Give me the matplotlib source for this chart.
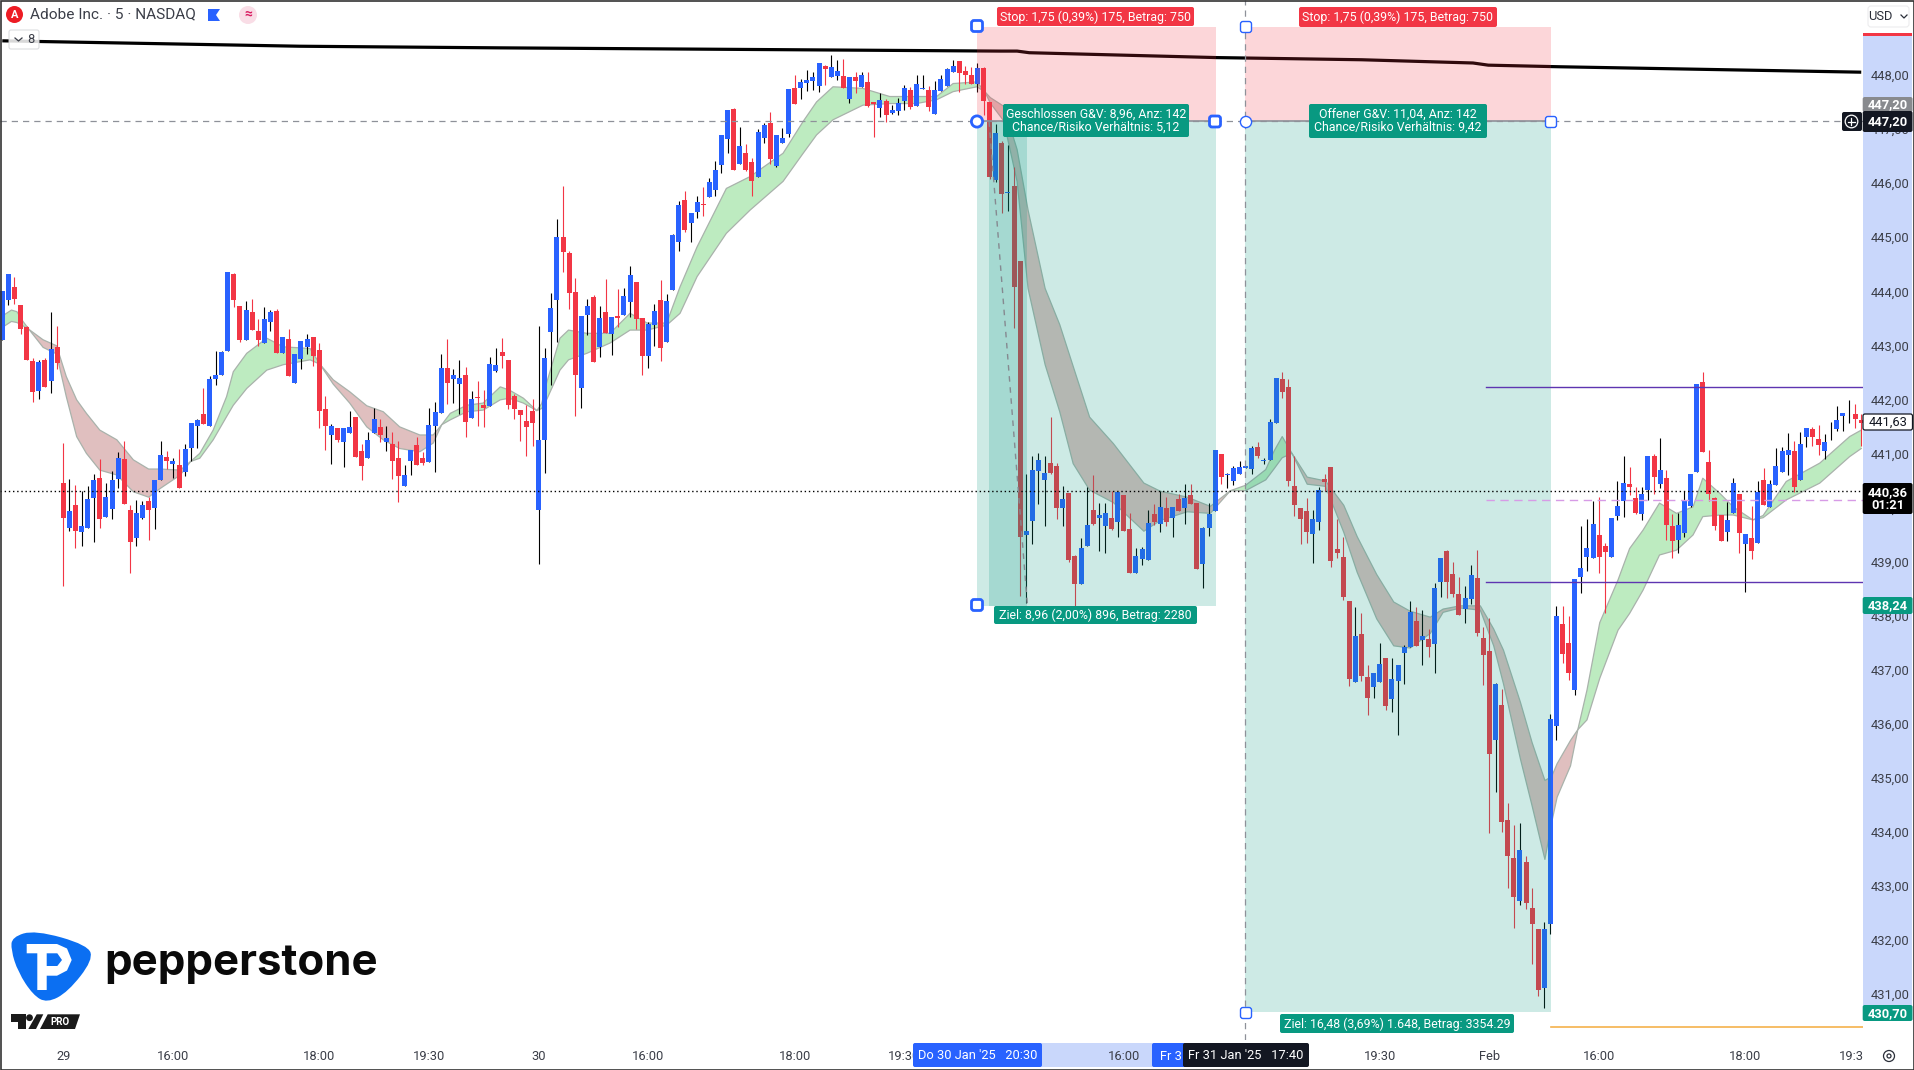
"""
Adobe 5 min chart with two long/short position boxes, TradingView look
"""
import matplotlib
matplotlib.use('Agg')
import matplotlib.pyplot as plt
from matplotlib.patches import Rectangle, FancyBboxPatch, Circle, Polygon, PathPatch
from matplotlib.path import Path
import numpy as np

opens = [
    443.15, 443.90, 444.14, 443.80, 443.39, 442.77, 442.21, 442.79, 442.40, 443.03,
    440.51, 439.68, 440.11, 439.61, 439.68, 440.24, 440.60, 439.88, 440.03, 440.59,
    440.96, 440.01, 439.50, 439.86, 440.18, 440.05, 440.57, 440.99, 440.86, 440.85,
    440.72, 441.16, 441.57, 441.79, 441.57, 442.44, 442.51, 442.95, 444.38, 443.79,
    443.16, 443.67, 443.32, 443.10, 443.49, 443.69, 442.92, 443.17, 442.36, 442.81,
    443.03, 443.21, 442.97, 441.88, 441.40, 441.53, 441.27, 441.44, 441.73, 441.11,
    440.97, 441.44, 441.55, 441.27, 441.23, 440.97, 440.46, 440.92, 441.21, 440.97,
    440.90, 441.57, 441.81, 442.64, 442.44, 442.34, 442.51, 441.71, 442.10, 441.95,
    441.94, 442.58, 442.93, 442.79, 442.12, 441.86, 441.66, 441.84, 440.01, 441.31,
    443.30, 443.90, 445.06, 444.77, 444.04, 442.27, 443.62, 443.95, 443.03, 443.67,
    443.27, 443.60, 443.62, 443.86, 444.23, 443.56, 442.86, 443.43, 443.90, 443.12,
    444.08, 444.97, 445.75, 445.32, 445.52, 445.67, 445.80, 445.93, 446.39, 446.87,
    447.43, 446.41, 446.61, 446.45, 446.17, 446.89, 447.17, 446.37, 446.80, 446.97,
    447.82, 447.82, 447.91, 447.95, 447.85, 448.22, 448.02, 448.04, 448.04, 447.61,
    448.02, 447.84, 447.93, 447.55, 447.45, 447.58, 447.35, 447.39, 447.58, 447.78,
    447.48, 447.80, 447.78, 447.34, 447.76, 447.85, 448.11, 448.32, 448.13, 448.06,
    447.89, 448.19, 447.56, 446.12, 446.80, 445.88, 446.00, 444.62, 439.55, 439.80,
    440.74, 440.57, 440.89, 440.83, 440.05, 440.33, 439.16, 438.64, 439.35, 440.01,
    439.87, 439.72, 439.87, 439.79, 440.29, 439.66, 438.85, 439.11, 439.09, 439.94,
    439.75, 440.05, 439.87, 440.22, 440.05, 440.29, 440.14, 439.01, 439.68, 439.99,
    441.05, 440.66, 440.55, 440.68, 440.79, 440.77, 441.18, 440.92, 440.94, 441.62,
    442.44, 442.29, 440.46, 440.05, 439.99, 439.57, 439.79, 440.58, 440.81, 439.29,
    439.15, 438.33, 436.84, 437.71, 436.93, 436.73, 436.84, 437.28, 436.52, 436.85,
    437.36, 437.48, 437.96, 437.61, 437.63, 437.54, 438.69, 439.25, 438.83, 438.46,
    438.18, 438.37, 438.76, 437.65, 437.41, 435.76, 436.41, 434.27, 433.58, 432.79,
    433.50, 432.66, 432.27, 431.18, 432.35, 436.02, 437.91, 437.56, 436.68, 438.77,
    439.14, 439.12, 439.55, 439.35, 439.14, 439.90, 440.18, 440.49, 440.23, 439.94,
    440.38, 441.01, 440.49, 440.60, 439.72, 439.46, 439.59, 440.09, 440.72, 442.38,
    440.90, 440.23, 439.92, 439.61, 439.96, 440.31, 439.38, 439.50, 439.40, 440.57,
    440.07, 440.47, 440.71, 441.03, 441.10, 440.57, 441.36, 441.51, 441.33, 441.10,
    441.45, 441.51, 441.75, 441.78, 441.79, 441.68,
]
closes = [
    444.06, 444.38, 443.91, 443.36, 442.79, 442.20, 442.75, 442.29, 442.99, 442.73,
    439.87, 439.99, 439.62, 439.72, 440.22, 440.57, 439.85, 440.25, 440.57, 440.97,
    440.12, 439.42, 439.96, 440.11, 440.01, 440.57, 441.03, 440.92, 440.92, 440.42,
    441.14, 441.62, 441.68, 441.60, 442.44, 442.51, 442.93, 444.41, 443.90, 443.16,
    443.71, 443.34, 443.16, 443.55, 443.67, 442.92, 443.21, 442.49, 442.90, 443.14,
    443.17, 442.86, 441.84, 441.57, 441.57, 441.31, 441.53, 441.55, 440.99, 440.83,
    441.31, 441.70, 441.40, 441.34, 440.92, 440.64, 440.66, 441.12, 440.85, 440.88,
    441.59, 441.83, 442.64, 442.36, 442.51, 442.45, 441.64, 442.07, 442.09, 441.90,
    442.71, 442.69, 442.86, 441.95, 441.88, 441.77, 441.55, 441.62, 441.31, 442.82,
    443.75, 445.06, 444.78, 444.03, 442.51, 443.60, 443.79, 442.75, 443.56, 443.29,
    443.58, 443.56, 443.97, 444.36, 443.54, 442.86, 443.45, 443.69, 443.01, 443.88,
    445.10, 445.65, 445.19, 445.51, 445.71, 445.65, 446.08, 446.30, 446.95, 447.41,
    446.30, 446.74, 446.30, 446.10, 447.00, 447.13, 446.50, 446.95, 446.89, 447.80,
    447.52, 447.93, 447.97, 448.02, 448.28, 448.17, 448.21, 448.13, 447.82, 448.02,
    447.95, 448.06, 447.48, 447.53, 447.60, 447.32, 447.41, 447.54, 447.82, 447.47,
    447.89, 447.81, 447.47, 447.78, 447.98, 448.17, 448.22, 448.10, 448.06, 447.89,
    448.19, 447.58, 446.17, 446.98, 445.86, 445.89, 444.14, 439.52, 439.62, 440.75,
    440.94, 440.69, 440.70, 440.05, 440.22, 439.09, 438.64, 439.31, 439.74, 439.75,
    439.92, 439.96, 439.66, 440.35, 439.62, 438.85, 439.16, 439.29, 439.77, 439.79,
    440.07, 439.79, 440.07, 440.00, 440.24, 440.12, 438.92, 439.68, 439.94, 441.12,
    440.62, 440.67, 440.79, 440.81, 440.83, 441.16, 441.01, 440.93, 441.64, 442.45,
    442.20, 440.55, 440.11, 439.85, 439.61, 439.85, 440.38, 440.53, 439.07, 439.22,
    438.41, 436.89, 437.68, 436.95, 436.54, 437.00, 437.17, 436.38, 436.89, 437.15,
    437.48, 438.13, 437.50, 437.69, 437.48, 438.57, 439.13, 438.69, 438.45, 438.07,
    438.39, 438.81, 437.74, 437.33, 435.50, 436.79, 434.24, 433.62, 432.86, 433.73,
    432.75, 432.35, 431.14, 432.27, 436.15, 438.06, 437.34, 437.00, 438.74, 438.94,
    439.31, 439.75, 439.14, 439.24, 439.87, 440.09, 440.51, 440.44, 439.96, 440.31,
    441.01, 440.62, 440.75, 439.74, 439.44, 439.74, 440.20, 440.68, 442.34, 441.09,
    440.31, 439.72, 439.44, 439.83, 440.51, 439.59, 439.57, 439.25, 440.35, 440.11,
    440.49, 440.83, 441.10, 441.12, 440.44, 441.23, 441.53, 441.36, 441.21, 441.27,
    441.46, 441.68, 441.81, 441.79, 441.70, 441.62,
]
highs = [
    444.06, 444.38, 444.33, 443.80, 443.42, 442.82, 442.79, 442.82, 443.67, 443.42,
    441.25, 440.59, 440.48, 440.37, 440.46, 440.68, 440.96, 440.51, 440.73, 441.09,
    441.29, 440.11, 440.20, 440.18, 440.25, 440.57, 441.29, 441.11, 440.97, 441.14,
    441.23, 441.62, 441.70, 442.27, 442.49, 442.95, 442.95, 444.41, 444.40, 443.79,
    443.88, 443.91, 443.55, 443.77, 443.71, 443.73, 443.21, 443.36, 442.90, 443.14,
    443.27, 443.21, 443.10, 442.12, 441.60, 441.53, 441.53, 441.84, 441.73, 441.23,
    441.46, 441.90, 441.70, 441.57, 441.46, 441.29, 440.85, 441.12, 441.36, 441.09,
    441.90, 442.01, 442.90, 443.17, 442.62, 442.79, 442.66, 442.21, 442.40, 442.23,
    442.84, 443.01, 443.19, 442.79, 442.16, 441.86, 441.95, 442.07, 443.42, 443.01,
    444.03, 445.39, 446.00, 444.80, 444.30, 443.60, 443.91, 443.99, 443.79, 444.28,
    443.58, 444.10, 444.12, 444.52, 444.23, 443.56, 443.49, 443.82, 444.27, 444.01,
    445.12, 445.73, 445.91, 445.51, 445.82, 445.99, 446.15, 446.47, 446.95, 447.41,
    447.45, 447.10, 446.78, 446.52, 447.06, 447.17, 447.37, 446.95, 447.08, 447.80,
    448.06, 447.98, 448.15, 448.11, 448.28, 448.24, 448.43, 448.33, 448.35, 448.02,
    448.11, 448.11, 448.11, 447.56, 447.72, 447.61, 447.50, 447.63, 447.87, 447.84,
    448.06, 448.06, 447.85, 447.95, 448.06, 448.19, 448.33, 448.32, 448.22, 448.21,
    448.28, 448.21, 447.56, 447.16, 446.84, 446.76, 446.35, 444.62, 440.67, 441.02,
    441.07, 441.02, 441.73, 440.89, 440.46, 440.33, 439.18, 439.50, 440.44, 440.66,
    440.14, 440.14, 440.36, 440.35, 440.29, 439.96, 439.31, 439.33, 440.01, 440.12,
    440.36, 440.25, 440.07, 440.31, 440.49, 440.49, 440.14, 439.70, 440.14, 441.12,
    441.05, 440.69, 440.83, 440.92, 440.83, 441.20, 441.27, 440.97, 441.70, 442.45,
    442.56, 442.44, 441.01, 440.05, 440.24, 440.02, 440.43, 440.68, 440.81, 439.85,
    439.51, 438.33, 438.22, 438.10, 437.15, 437.00, 437.56, 437.28, 437.28, 437.15,
    437.52, 438.33, 438.22, 438.17, 437.81, 438.66, 439.13, 439.27, 439.05, 438.77,
    438.61, 438.99, 439.28, 437.85, 438.01, 436.82, 436.70, 434.60, 434.19, 434.23,
    433.62, 433.03, 432.27, 432.40, 436.24, 438.24, 438.24, 438.06, 438.74, 439.72,
    439.85, 440.18, 440.25, 439.40, 439.87, 440.55, 441.01, 440.81, 440.44, 440.44,
    441.01, 441.05, 441.35, 440.75, 439.94, 439.96, 440.36, 440.68, 442.34, 442.57,
    441.12, 440.25, 439.92, 440.16, 440.60, 440.31, 439.57, 440.09, 440.55, 440.79,
    440.57, 441.16, 441.18, 441.44, 441.29, 441.46, 441.53, 441.55, 441.58, 441.42,
    441.64, 441.94, 441.81, 442.05, 441.97, 441.79,
]
lows = [
    443.15, 443.80, 443.82, 443.27, 442.79, 442.01, 442.07, 442.29, 442.18, 442.62,
    438.61, 439.62, 439.31, 439.35, 439.68, 439.42, 439.68, 439.88, 439.85, 440.42,
    440.12, 438.85, 439.35, 439.85, 439.46, 439.66, 440.57, 440.77, 440.60, 440.42,
    440.64, 440.92, 441.16, 441.60, 441.57, 442.32, 442.51, 442.95, 443.77, 443.12,
    443.16, 443.34, 443.05, 443.10, 443.32, 442.92, 442.92, 442.49, 442.36, 442.62,
    442.90, 442.68, 441.53, 441.12, 440.86, 441.27, 440.81, 441.44, 440.99, 440.57,
    440.97, 441.44, 441.27, 441.11, 440.59, 440.16, 440.46, 440.66, 440.85, 440.85,
    440.90, 440.72, 441.81, 441.97, 441.99, 441.79, 441.36, 441.71, 441.57, 441.55,
    441.94, 442.57, 442.64, 441.88, 441.70, 441.29, 441.01, 441.20, 439.01, 440.70,
    442.32, 443.12, 444.41, 443.73, 441.75, 441.90, 443.25, 442.75, 442.84, 443.29,
    442.88, 443.40, 443.62, 443.58, 443.36, 442.51, 442.64, 443.04, 442.77, 443.12,
    444.08, 444.80, 445.15, 444.97, 445.41, 445.45, 445.80, 445.82, 446.25, 446.61,
    446.30, 446.41, 446.28, 445.82, 446.17, 446.80, 446.41, 446.35, 446.80, 446.91,
    447.52, 447.61, 447.76, 447.78, 447.74, 447.87, 448.02, 447.96, 447.82, 447.54,
    447.72, 447.84, 447.46, 446.91, 447.28, 447.19, 447.33, 447.32, 447.41, 447.43,
    447.48, 447.80, 447.39, 447.33, 447.76, 447.85, 448.11, 447.74, 447.89, 447.89,
    447.74, 447.32, 446.14, 446.08, 445.51, 445.54, 443.38, 438.43, 438.30, 439.38,
    440.12, 439.72, 440.67, 439.85, 439.72, 439.05, 438.24, 438.64, 439.35, 439.74,
    439.25, 439.22, 439.64, 439.51, 439.62, 438.85, 438.85, 439.00, 439.09, 439.74,
    439.61, 439.72, 439.51, 440.00, 439.75, 440.12, 438.92, 438.57, 439.53, 439.99,
    440.49, 440.42, 440.48, 440.68, 440.79, 440.67, 440.97, 440.86, 440.94, 441.62,
    442.09, 440.45, 439.90, 439.39, 439.40, 439.04, 439.65, 440.36, 438.95, 439.12,
    438.35, 436.75, 436.84, 436.85, 436.23, 436.54, 436.84, 436.31, 436.27, 435.85,
    436.79, 437.48, 437.50, 437.15, 437.29, 436.99, 438.41, 438.39, 438.41, 438.07,
    437.92, 438.27, 437.68, 436.78, 434.04, 434.80, 434.06, 433.03, 432.29, 432.71,
    432.63, 431.61, 431.02, 430.80, 432.17, 435.76, 437.19, 436.86, 436.60, 438.48,
    438.88, 439.12, 438.85, 438.11, 439.14, 439.83, 439.88, 440.29, 439.94, 439.83,
    440.20, 440.31, 440.42, 439.46, 439.12, 439.22, 439.51, 440.07, 440.72, 441.09,
    440.18, 439.64, 439.44, 439.44, 439.96, 439.22, 438.50, 439.11, 439.40, 440.11,
    440.07, 440.47, 440.71, 440.66, 440.35, 440.57, 441.18, 441.20, 441.03, 440.96,
    441.31, 441.47, 441.47, 441.62, 441.53, 441.20,
]

# moving average ribbon, read at the bars listed in ribbon_bar
ribbon_bar = [
    1, 2.5, 3.4, 4.4, 5.4, 7.7, 9.9, 11.5, 13.2, 14.8, 17, 19.8, 22.5, 25, 26.9, 30.2, 31.9,
    33.4, 35.6, 37.8, 38.9, 41.1, 44.4, 47.1, 51.5, 53.1,
    55.3, 58, 60.8, 63.5, 66.2, 69.5, 71.7, 73.1,
    74.5, 77.2, 79.9, 82.7, 84.2, 86.5, 88.7,
    89.5, 90.3, 92.5, 93.9, 96.9, 100.7, 104, 106.8, 110, 112.2, 115, 119.8, 123.7, 129.1,
    132.4, 134.6, 137.3, 142.2, 146.6, 151, 154.3, 157, 160.9, 162.2,
    163.1, 165.3, 167.5, 169.3, 172.1, 174.5, 176.7, 179.4, 183.3, 188.3, 191, 195.4, 199.2, 202.5,
    205, 208.3, 209.7, 211, 212.6,
    215.1, 218.1, 221.1, 223.3, 226.5, 229.3, 232, 235.3, 237.4, 240.2, 243.5, 245.7, 247.3,
    250.1, 252, 254.1, 255.2, 256.1, 258.3, 259.5,
    261, 263.1, 266.1, 268, 270.2, 272.9, 275.7, 278.4, 280, 282.8, 285, 288.2,
    289.9, 293.7, 299.2, 304.1, 306,
]
ribbon_fast = [
    443.60, 443.71, 443.68, 443.50, 443.35, 443.02, 442.90, 442.11, 441.37, 441.06, 440.75, 440.66, 440.35, 440.25, 440.41, 440.66, 440.91,
    441.06, 441.49, 442.11, 442.57, 442.91, 443.19, 443.03, 443.00, 442.71,
    442.34, 441.99, 441.55, 441.31, 441.15, 441.09, 441.25, 441.59,
    441.80, 441.95, 441.99, 442.29, 442.23, 442.08, 441.85,
    441.98, 442.36, 443.19, 443.34, 443.28, 443.28, 443.65, 443.47, 443.47, 444.14, 444.88, 445.96, 446.18, 446.61,
    447.20, 447.56, 447.84, 447.81, 447.66, 447.66, 447.66, 447.90, 447.93, 447.75,
    447.54, 447.21, 446.09, 444.11, 442.70, 441.83, 440.87, 440.38, 440.15, 439.62, 439.82, 439.98, 439.95, 440.37,
    440.47, 440.76, 441.11, 441.37, 441.06,
    440.49, 440.45, 439.60, 438.86, 438.00, 437.50, 437.46, 437.73, 438.12, 438.20, 438.16, 437.50, 436.80,
    435.40, 434.54, 433.55, 434.23, 434.70, 435.28, 435.95,
    436.68, 437.93, 438.72, 439.30, 439.64, 440.14, 439.95, 440.07, 440.60, 440.32, 440.07, 439.83,
    439.91, 440.54, 440.88, 441.37, 441.49,
]
ribbon_slow = [
    443.39, 443.50, 443.48, 443.42, 443.35, 443.16, 443.05, 442.48, 442.05, 441.80, 441.49, 441.31, 440.94, 440.77, 440.77, 440.75, 440.91,
    440.97, 441.31, 441.74, 441.95, 442.26, 442.60, 442.70, 442.79, 442.71,
    442.42, 442.20, 441.94, 441.83, 441.55, 441.40, 441.40, 441.59,
    441.68, 441.83, 441.86, 442.05, 442.08, 441.99, 441.85,
    441.89, 442.05, 442.60, 442.79, 442.91, 443.10, 443.34, 443.34, 443.43, 443.65, 444.33, 445.13, 445.56, 446.09,
    446.61, 446.95, 447.23, 447.50, 447.53, 447.53, 447.60, 447.75, 447.84, 447.75,
    447.64, 447.48, 446.68, 445.56, 444.11, 443.44, 442.67, 441.73, 441.24, 440.51, 440.36, 440.25, 440.08, 440.37,
    440.37, 440.57, 440.78, 440.98, 441.06,
    440.62, 440.55, 440.10, 439.52, 438.82, 438.31, 438.14, 438.03, 438.18, 438.24, 438.24, 437.81, 437.42,
    436.45, 435.71, 435.01, 435.08, 435.32, 435.75, 435.95,
    436.13, 436.90, 437.79, 438.10, 438.53, 439.18, 439.27, 439.55, 439.89, 439.92, 439.92, 439.83,
    439.87, 440.20, 440.51, 441.00, 441.15,
]

long_ma_bar = [1, 49.8, 82.7, 164.7, 167.5, 169.5, 200.2, 224, 242.3, 244.8, 256.6, 306]
long_ma_price = [448.69, 448.59, 448.56, 448.50, 448.50, 448.47, 448.38, 448.34, 448.28, 448.24, 448.21, 448.11]

x_tick_bars = [11, 29, 53, 71, 89, 107, 131, 149, 185, 227, 245, 263, 287, 305]
x_tick_labels = ['29', '16:00', '18:00', '19:30', '30', '16:00', '18:00', '19:30',
                 '16:00', '19:30', 'Feb', '16:00', '18:00', '19:30']
y_ticks = list(range(431, 449))

entry_price = 447.20
stop_price = 448.95
target_one = 438.24
target_two = 430.72
level_high = 442.28
level_mid = 440.19
level_low = 438.69
level_orange = 430.45
last_price = 440.36

box_one = (160.9, 200.1)
box_one_trade = (162.9, 169.2)
box_two = (204.9, 255.1)
level_start_bar = 244.4
orange_start_bar = 255.1

BLUE = '#2962FF'
RED = '#F23645'
TEAL = '#089981'
LIGHT = '#C9D7FB'
INK = '#3B3E48'
FONT = 'Roboto'

W, H = 1915, 1070
CHART_BOTTOM = 1040
AXIS_LEFT = 1862.7
AXIS_RIGHT = 1912.5
plt.rcParams['font.family'] = [FONT, 'DejaVu Sans']


def px_rect(left, top, right, bottom):
    return [left / W, 1 - bottom / H, (right - left) / W, (bottom - top) / H]


fig = plt.figure(figsize=(W / 100, H / 100), dpi=100, facecolor='white')

# layer under the chart, carries the time range band
bg = fig.add_axes([0, 0, 1, 1], zorder=0)
bg.set_xlim(0, W)
bg.set_ylim(H, 0)
bg.axis('off')
bg.add_patch(Rectangle((977, 1043), 238, 24, color=LIGHT, lw=0))

ax = fig.add_axes(px_rect(0, 0, AXIS_LEFT, CHART_BOTTOM), zorder=1)
ax.set_xlim(0.623, 306.24)
ax.set_ylim(430.21, 449.445)
for spine in ax.spines.values():
    spine.set_visible(False)
ax.set_yticks([])
ax.set_xticks(x_tick_bars)
ax.set_xticklabels(x_tick_labels, fontsize=9.3, color=INK)
ax.tick_params(axis='x', length=0, pad=7.5)

bars = np.arange(1, len(opens) + 1)
o, c, h, l = map(np.array, (opens, closes, highs, lows))
fast, slow = np.array(ribbon_fast), np.array(ribbon_slow)
up = c >= o

# ribbon
ax.fill_between(ribbon_bar, fast, slow, where=fast >= slow, color='#BDEBC0', lw=0, zorder=1)
ax.fill_between(ribbon_bar, fast, slow, where=fast <= slow, color='#E0BFBF', lw=0, zorder=1)
ax.plot(ribbon_bar, fast, color='#A9B2AB', lw=0.9, zorder=1.1)
ax.plot(ribbon_bar, slow, color='#A9B2AB', lw=0.9, zorder=1.1)

ax.plot(long_ma_bar, long_ma_price, color='black', lw=2.3, zorder=1.5, solid_capstyle='butt')

# candles
ax.vlines(bars[up], l[up], h[up], color='black', lw=0.8, zorder=2)
ax.vlines(bars[~up], l[~up], h[~up], color=RED, lw=0.8, zorder=2)
ax.bar(bars[up], (c - o)[up], bottom=o[up], width=0.82, color=BLUE, lw=0, zorder=2.1)
ax.bar(bars[~up], (o - c)[~up], bottom=c[~up], width=0.82, color=RED, lw=0, zorder=2.1)

# position boxes
for left, right, target in ((box_one[0], box_one[1], target_one), (box_two[0], box_two[1], target_two)):
    ax.add_patch(Rectangle((left, entry_price), right - left, stop_price - entry_price,
                           facecolor=RED, alpha=0.2, lw=0, zorder=3))
    ax.add_patch(Rectangle((left, target), right - left, entry_price - target,
                           facecolor=TEAL, alpha=0.2, lw=0, zorder=3))
ax.add_patch(Rectangle((box_one_trade[0], target_one), box_one_trade[1] - box_one_trade[0], entry_price - target_one,
                       facecolor=TEAL, alpha=0.2, lw=0, zorder=3))
ax.plot(box_one_trade, [entry_price, target_one], color='#858990',
        lw=1, ls=(0, (4, 4)), zorder=3.2)

# levels
ax.axhline(entry_price, color='#8E9199', lw=0.9, ls=(0, (5, 4)), zorder=3.1)
ax.plot([box_two[0], box_two[1]], [entry_price, entry_price], color='#8E9199', lw=1.2, zorder=3.1)
ax.plot([box_one[0], box_one[1]], [entry_price, entry_price], color='#8E9199', lw=1.2, zorder=3.1)
ax.axhline(last_price, color='black', lw=1, ls=(0, (1, 2)), zorder=3.1)
ax.axvline(box_two[0], color='#8E9199', lw=0.9, ls=(0, (5, 4)), zorder=3.1)
ax.plot([level_start_bar, 306.3], [level_high, level_high], color='#5E35B1', lw=1, zorder=3.1)
ax.plot([level_start_bar, 306.3], [level_low, level_low], color='#5E35B1', lw=1, zorder=3.1)
ax.plot([level_start_bar, 306.3], [level_mid, level_mid], color='#D79BE6', lw=1, ls=(0, (6, 4)), zorder=3.1)
ax.plot([orange_start_bar, 306.3], [level_orange, level_orange], color='#F5B14C', lw=1.2, zorder=3.1)

# price scale
ax_y = fig.add_axes(px_rect(AXIS_LEFT, 0, AXIS_RIGHT, CHART_BOTTOM), zorder=2)
ax_y.set_ylim(ax.get_ylim())
ax_y.set_xlim(0, 1)
ax_y.set_xticks([])
ax_y.set_yticks([])
for spine in ax_y.spines.values():
    spine.set_visible(False)
ax_y.axhspan(target_two, stop_price, color=LIGHT, lw=0)
for tick in y_ticks:
    # labels sit about 1.5 px above the true level in the original
    ax_y.text(0.16, tick + 0.03, f'{tick:.2f}'.replace('.', ','), fontsize=9.3, color=INK, va='center', ha='left')

# everything drawn in screen pixels goes on top
ov = fig.add_axes([0, 0, 1, 1], zorder=3)
ov.set_xlim(0, W)
ov.set_ylim(H, 0)
ov.axis('off')
ov.patch.set_alpha(0)


def tag(left, top, right, bottom, face, text, color='white', size=8.9, edge='none', weight='normal'):
    ov.add_patch(FancyBboxPatch((left + 2, top + 2), right - left - 4, bottom - top - 4,
                                boxstyle='round,pad=2,rounding_size=2', facecolor=face,
                                edgecolor=edge, lw=0.9))
    ov.text((left + right) / 2, (top + bottom) / 2 + 0.5, text, color=color, fontsize=size, ha='center',
            va='center', linespacing=0.95, fontweight=weight)


def handle(x, y, round_it=False, heavy=True):
    lw = 2 if heavy else 1
    if round_it:
        ov.add_patch(Circle((x, y), 5.6, facecolor='white', edgecolor=BLUE, lw=lw, zorder=5))
    else:
        ov.add_patch(FancyBboxPatch((x - 4, y - 4), 8, 8, boxstyle='round,pad=1.5,rounding_size=2.5',
                                    facecolor='white', edgecolor=BLUE, lw=lw, zorder=5))


def smooth(points):
    pts = np.array(points, dtype=float)
    mids = (pts + np.roll(pts, -1, axis=0)) / 2
    verts = [mids[-1]]
    codes = [Path.MOVETO]
    for p, m in zip(pts, mids):
        verts += [p, m]
        codes += [Path.CURVE3, Path.CURVE3]
    return Path(verts, codes)


# position labels
tag(997, 7, 1194, 26, RED, 'Stop: 1,75 (0,39%) 175, Betrag: 750')
tag(1299, 7, 1497, 27, RED, 'Stop: 1,75 (0,39%) 175, Betrag: 750')
tag(1003, 104, 1189, 137, TEAL, 'Geschlossen G&V: 8,96, Anz: 142\nChance/Risiko Verhältnis: 5,12')
tag(1309, 104, 1487, 138, TEAL, 'Offener G&V: 11,04, Anz: 142\nChance/Risiko Verhältnis: 9,42')
tag(994, 606, 1197, 624, TEAL, 'Ziel: 8,96 (2,00%) 896, Betrag: 2280')
tag(1280, 1014, 1514, 1033, TEAL, 'Ziel: 16,48 (3,69%) 1.648, Betrag: 3354.29')

handle(977, 26)
handle(977, 121.5, round_it=True)
handle(1215, 121.5)
handle(977, 605)
handle(1246, 27, heavy=False)
handle(1246, 122, round_it=True, heavy=False)
handle(1551, 122, heavy=False)
handle(1246, 1013, heavy=False)

# price scale tags
ov.add_patch(Rectangle((AXIS_LEFT, 0), W - AXIS_LEFT, 33, color='white', lw=0))
ov.add_patch(Rectangle((AXIS_LEFT, 33), AXIS_RIGHT - AXIS_LEFT, 2.7, color=RED, lw=0))
ov.add_patch(FancyBboxPatch((1868, 6), 41, 21, boxstyle='round,pad=0,rounding_size=3', facecolor='white',
                            edgecolor='#ECECEE', lw=0.8))
ov.text(1880, 16, 'USD', fontsize=9.3, color='#2A2E39', ha='center', va='center')
ov.plot([1901, 1904, 1907], [15, 18, 15], color='#2A2E39', lw=0.9)
tag(AXIS_LEFT, 97, AXIS_RIGHT, 112, '#888A8E', '447,20', size=9.3, weight='bold')
tag(AXIS_LEFT, 111, AXIS_RIGHT, 132, '#131722', '447,20', size=9.3, weight='bold')
ov.add_patch(FancyBboxPatch((1843, 113), 18, 17, boxstyle='round,pad=1,rounding_size=2', facecolor='#131722', lw=0))
ov.add_patch(Circle((1851.5, 121.5), 6.3, facecolor='none', edgecolor='white', lw=0.9))
ov.plot([1848, 1855], [121.5, 121.5], color='white', lw=0.9)
ov.plot([1851.5, 1851.5], [118, 125], color='white', lw=0.9)
tag(1863, 414, AXIS_RIGHT, 430, 'white', '441,63', color='#131722', size=9.3, edge='#131722')
tag(AXIS_LEFT, 483, AXIS_RIGHT, 514, 'black', '440,36\n01:21', size=9.3, weight='bold')
tag(AXIS_LEFT, 597, AXIS_RIGHT, 614, TEAL, '438,24', size=9.3, weight='bold')
tag(AXIS_LEFT, 1005, AXIS_RIGHT, 1021, TEAL, '430,70', size=9.3, weight='bold')

# time axis tags
ov.add_patch(Rectangle((AXIS_LEFT, CHART_BOTTOM), W - AXIS_LEFT, H - CHART_BOTTOM, color='white', lw=0))
tag(913, 1043, 1042, 1067, BLUE, "Do 30 Jan '25   20:30", size=9.3)
tag(1152, 1043, 1190, 1067, BLUE, '')
ov.text(1160, 1056, 'Fr 3', color='white', fontsize=9.3, va='center')
tag(1183, 1043, 1309, 1067, '#131722', "Fr 31 Jan '25   17:40", size=9.3)

# settings gear
ov.add_patch(Circle((1889, 1056), 5.5, facecolor='none', edgecolor='#2A2E39', lw=0.9))
ov.add_patch(Circle((1889, 1056), 2, facecolor='none', edgecolor='#2A2E39', lw=0.9))

# header
ov.add_patch(Circle((14.5, 14.5), 8.5, color='#ED1C24', lw=0))
ov.text(14.5, 14.5, 'A', color='white', fontsize=8, fontweight='bold', ha='center', va='center')
ov.text(30, 14.5, 'Adobe Inc. · 5 · NASDAQ', color=INK, fontsize=11.1, va='center')
ov.add_patch(Polygon([(208, 9), (220, 9), (216, 15), (220, 21), (208, 21)], color=BLUE, lw=0))
ov.add_patch(Circle((248, 15), 9, color='#F9DDE6', lw=0))
ov.text(248, 14.5, '≈', color='#D81B60', fontsize=10, ha='center', va='center', fontweight='bold')
ov.add_patch(FancyBboxPatch((9, 30), 30, 19, boxstyle='round,pad=0,rounding_size=2', facecolor='white',
                            edgecolor='#D6D7DB', lw=0.8, alpha=0.85))
ov.plot([15, 18.5, 22], [38, 41, 38], color=INK, lw=0.9)
ov.text(31, 39.5, '8', color=INK, fontsize=9.3, ha='center', va='center')

# broker logo
blob = [(12, 937), (35, 930), (88, 945), (93, 960), (68, 992), (47, 1003), (33, 995), (18, 972), (11, 950)]
ov.add_patch(PathPatch(smooth(blob), facecolor='#0B6FF2', lw=0))
letter = [(26.7, 944), (57, 944), (67, 948.5), (71.7, 960), (67, 970.5), (57, 975.7), (46.7, 975.7),
          (46.7, 990), (37.3, 990), (37.3, 953.3), (26.7, 953.3)]
ov.add_patch(Polygon(letter, color='white', lw=0))
ov.add_patch(Polygon([(46.7, 953.3), (57.3, 953.3), (62, 960), (57.3, 966), (46.7, 966)], color='#0B6FF2', lw=0))
ov.text(104, 963, 'pepperstone', color='#0A0A0A', fontsize=31.5, fontweight='bold', family='Inter',
        ha='left', va='center')

# chart vendor badge
ov.add_patch(Polygon([(11, 1014.3), (26, 1014.3), (26, 1029), (18.3, 1029), (18.3, 1021.7), (11, 1021.7)], color='#1A1A1A', lw=0))
ov.add_patch(Circle((29.5, 1017.7), 3.4, color='#1A1A1A', lw=0))
ov.add_patch(Polygon([(36.7, 1014.3), (43.3, 1014.3), (36, 1029), (28.3, 1029)], color='#1A1A1A', lw=0))
ov.add_patch(Polygon([(47.7, 1014.3), (80, 1014.3), (75, 1029), (40, 1029)], color='#1A1A1A', lw=0))
ov.text(60, 1021.7, 'PRO', color='white', fontsize=7, fontweight='bold', ha='center', va='center')

# window frame
ov.add_patch(Rectangle((0.5, 0.5), W - 1, H - 1, facecolor='none', edgecolor='#333333', lw=1.2))

fig.savefig('out.png', dpi=100)
